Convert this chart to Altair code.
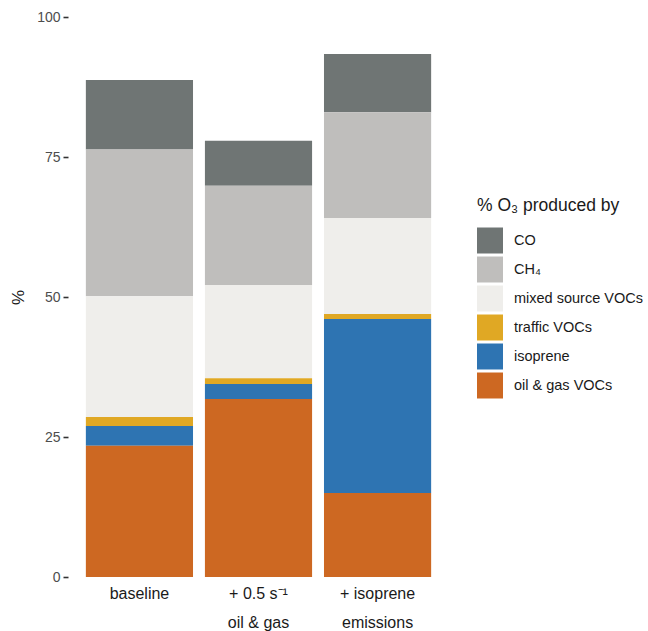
import altair as alt
import pandas as pd

scenarios = ["baseline", "+ 0.5 s⁻¹|oil & gas", "+ isoprene|emissions"]
sources = ["CO", "CH₄", "mixed source VOCs", "traffic VOCs", "isoprene", "oil & gas VOCs"]
colors = ["#6f7574", "#bfbebc", "#efeeeb", "#e0a824", "#2e74b2", "#cd6822"]

oil_gas = [23.45, 31.8, 15.0]
isoprene = [3.5, 2.65, 31.05]
traffic = [1.6, 1.05, 0.9]
mixed = [21.6, 16.65, 17.15]
ch4 = [26.2, 17.7, 18.9]
co = [12.4, 8.05, 10.4]

series = {
    "CO": co,
    "CH₄": ch4,
    "mixed source VOCs": mixed,
    "traffic VOCs": traffic,
    "isoprene": isoprene,
    "oil & gas VOCs": oil_gas,
}
stack_rank = {s: len(sources) - 1 - i for i, s in enumerate(sources)}

rows = []
for src, vals in series.items():
    for sc, v in zip(scenarios, vals):
        rows.append({"scenario": sc, "source": src, "value": v, "rank": stack_rank[src]})
df = pd.DataFrame(rows)

chart = alt.Chart(df).mark_bar(strokeWidth=0).encode(
    x=alt.X("scenario:N", sort=scenarios,
            scale=alt.Scale(paddingInner=0.1, paddingOuter=0.15),
            axis=alt.Axis(title=None, ticks=False, domain=False, labelAngle=0,
                          labelExpr="split(datum.label, '|')",
                          labelFont="Liberation Sans", labelFontSize=16,
                          labelColor="#1a1a1a", labelLineHeight=29,
                          labelBaseline="top", labelPadding=8)),
    y=alt.Y("value:Q", stack="zero",
            scale=alt.Scale(domain=[0, 100], nice=False, zero=True),
            axis=alt.Axis(title="%", values=[0, 25, 50, 75, 100], grid=False, domain=False,
                          tickSize=5, tickColor="#333333", tickWidth=1.6,
                          labelFont="Liberation Sans", labelFontSize=14,
                          labelColor="#4d4d4d", labelPadding=3,
                          titleFont="Liberation Sans", titleFontSize=17,
                          titleFontWeight="normal", titleColor="#1a1a1a",
                          titleX=-50, titleY=280, titleAngle=-90,
                          titleAlign="center", titleBaseline="middle")),
    color=alt.Color("source:N", sort=sources,
                    scale=alt.Scale(domain=sources, range=colors),
                    legend=alt.Legend(title="% O₃ produced by", orient="none",
                                      legendX=409, legendY=180,
                                      symbolType="square", symbolSize=676,
                                      symbolStrokeWidth=0, symbolOpacity=1,
                                      rowPadding=3, labelOffset=11,
                                      labelFont="Liberation Sans", labelFontSize=14.5,
                                      labelColor="#1a1a1a",
                                      titleFont="Liberation Sans", titleFontSize=17.5,
                                      titleFontWeight="normal", titleColor="#1a1a1a",
                                      titlePadding=13)),
    order=alt.Order("rank:Q", sort="ascending"),
).properties(
    width=381, height=560,
    padding={"left": 68, "top": 17, "right": 199, "bottom": 54},
    autosize=alt.AutoSizeParams(type="none"),
    background="white",
).configure_view(stroke=None, strokeWidth=0)

chart.save("out.html", embed_options={"renderer": "svg", "actions": False})
